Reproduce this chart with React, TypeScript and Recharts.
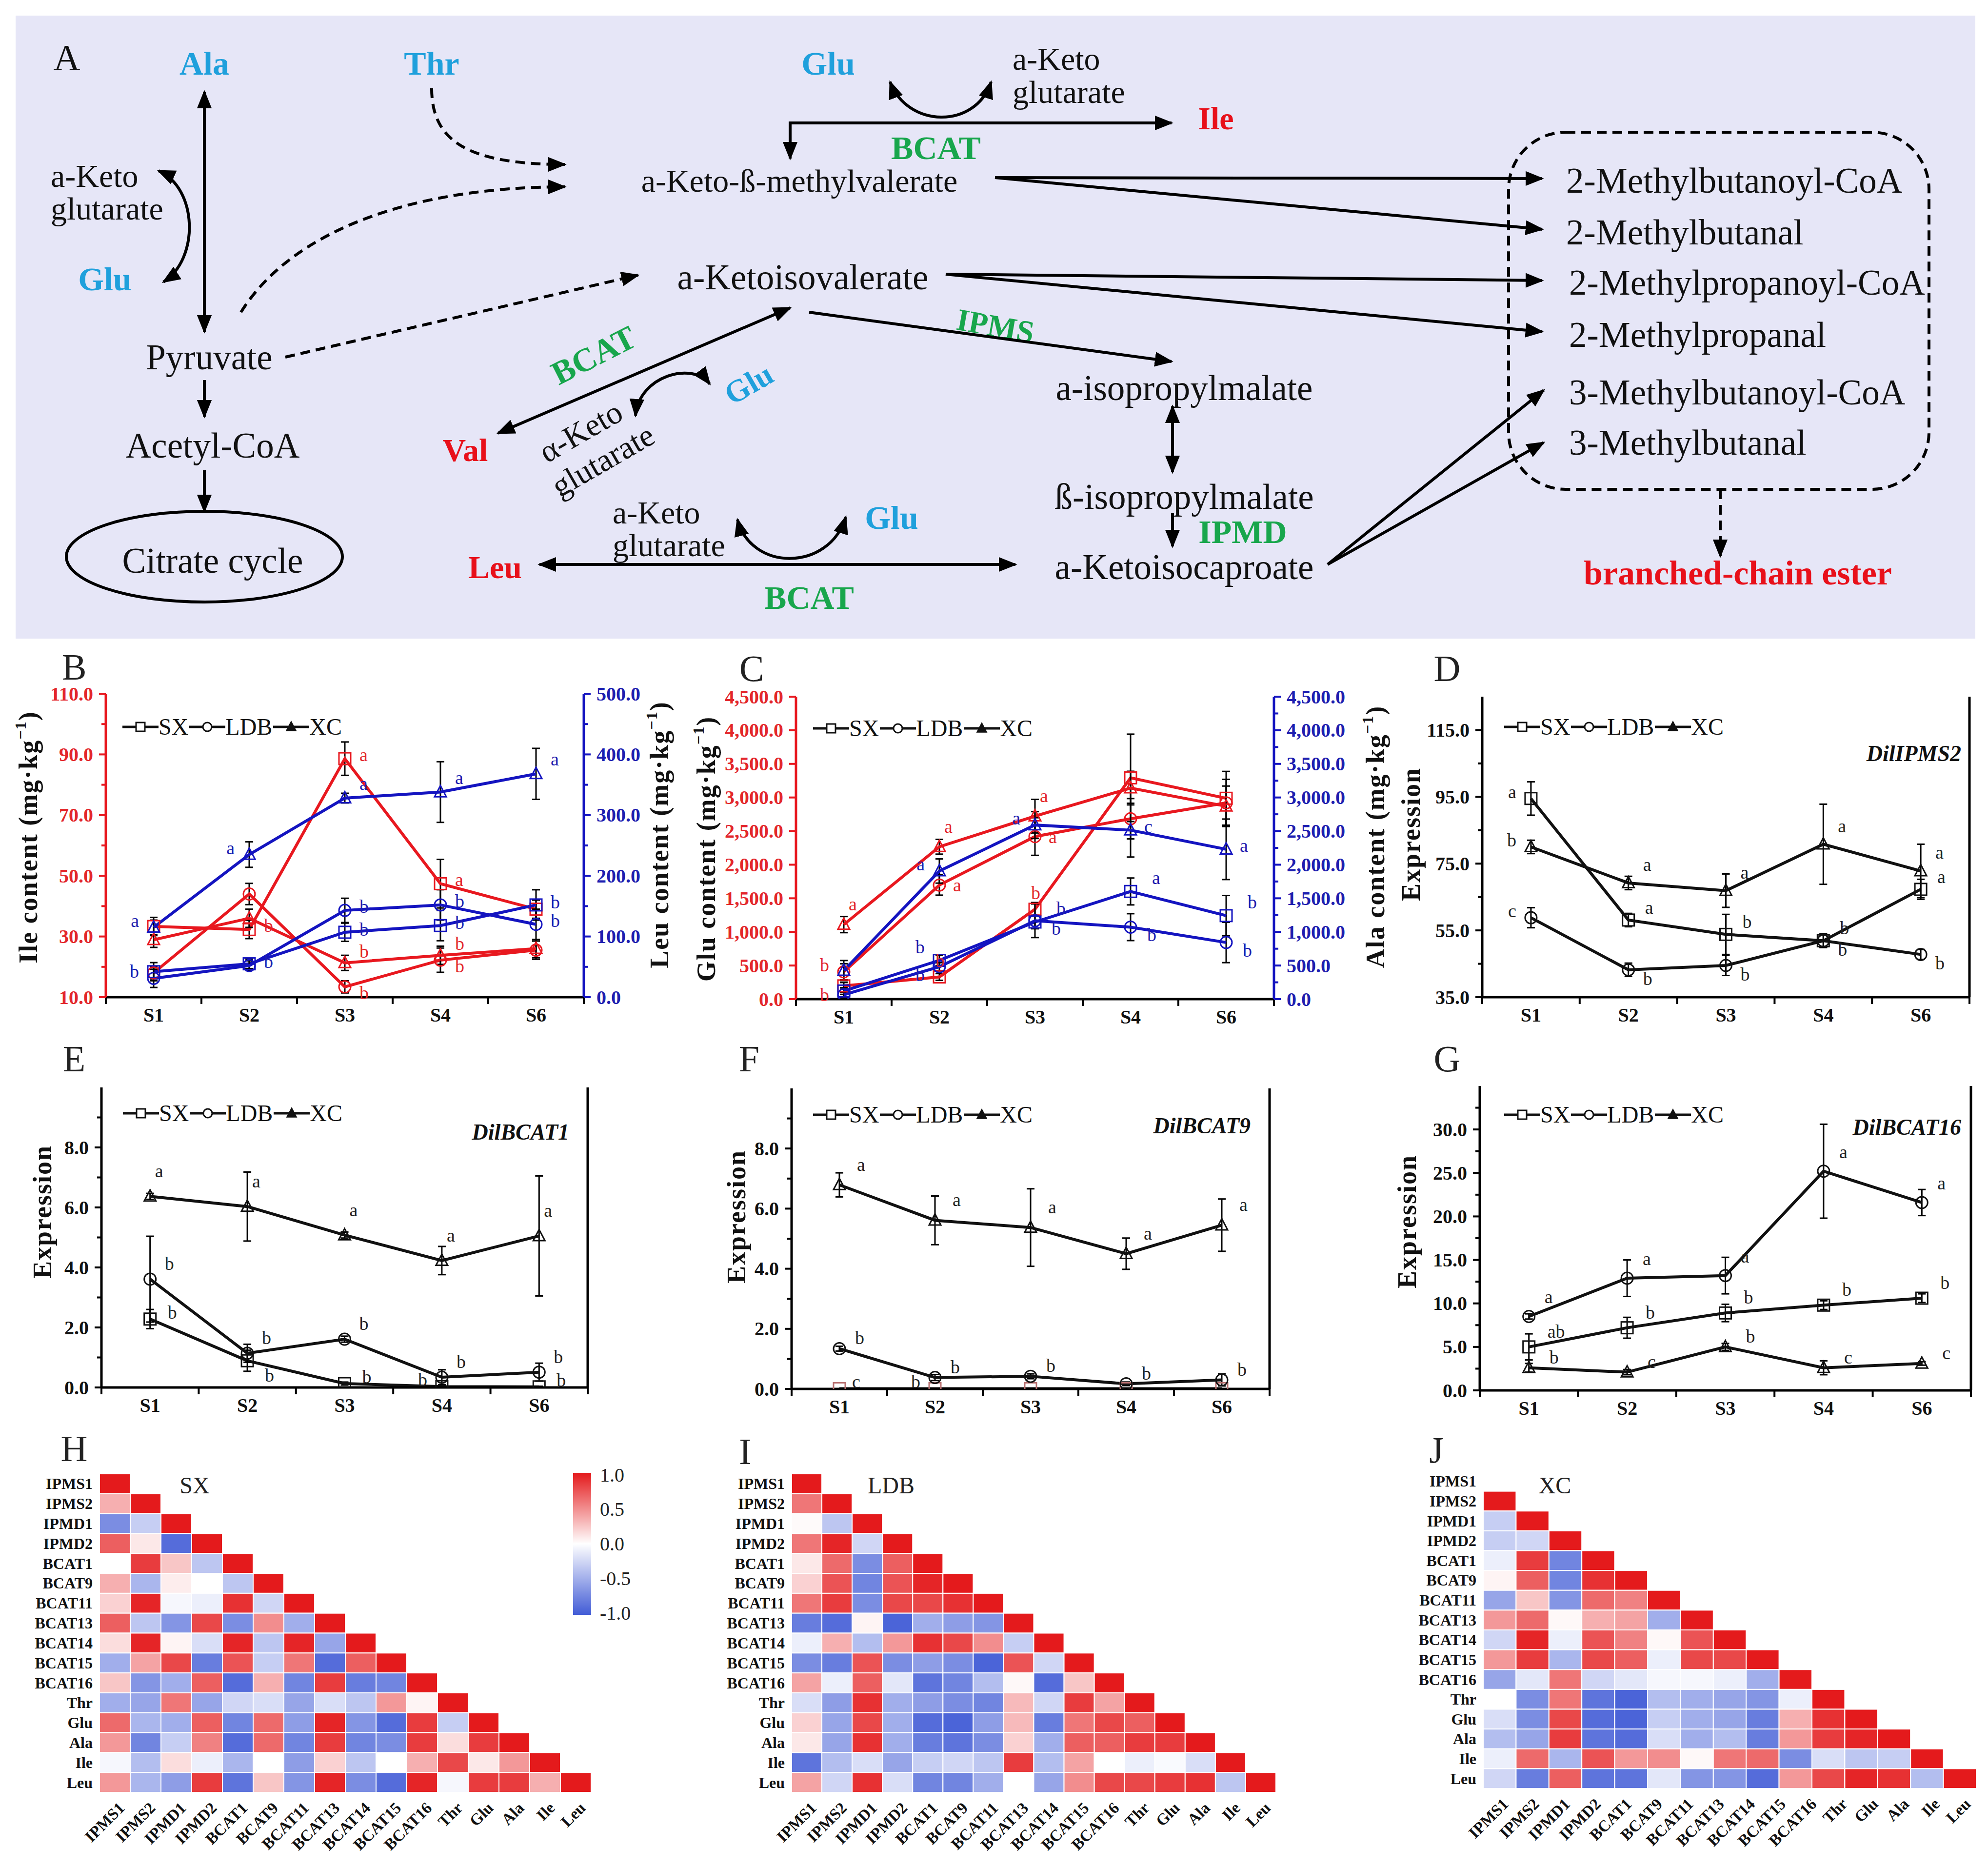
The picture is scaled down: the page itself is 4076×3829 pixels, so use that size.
import React from 'react';
import { LineChart, Line, XAxis, YAxis, ErrorBar, LabelList, ScatterChart, Scatter } from 'recharts';

const FONT = '"Liberation Serif", "Times New Roman", serif';
const RED = '#E8181F';
const BLUE = '#1414C0';
const BLK = '#111';

// ---------------- data ----------------
const stages = ['S1', 'S2', 'S3', 'S4', 'S6'];

// B: Ile (left) / Leu (right)
const ileSX = [33.3, 32.3, 88.6, 47.4, 39.0];
const ileSXErr = [3, 3, 5.5, 8, 3];
const ileSXLet = ['', 'b', 'a', 'a', ''];
const ileLDB = [18.0, 44.0, 13.4, 22.2, 25.5];
const ileLDBErr = [2, 3.5, 2, 4, 3];
const ileLDBLet = ['', '', 'b', 'b', ''];
const ileXC = [28.9, 36.0, 21.3, 23.8, 26.0];
const ileXCErr = [2.5, 3, 2.5, 3, 3];
const ileXCLet = ['', '', 'b', 'b', ''];
const leuSX = [42, 55, 107, 118, 152];
const leuSXErr = [15, 8, 15, 25, 25];
const leuSXLet = ['', '', 'b', 'b', 'b'];
const leuLDB = [31, 52, 143, 152, 120];
const leuLDBErr = [15, 8, 20, 25, 25];
const leuLDBLet = ['b', 'b', 'b', 'b', 'b'];
const leuXC = [115, 235, 328, 338, 368];
const leuXCErr = [12, 21, 8, 50, 42];
const leuXCLet = ['a', 'a', 'a', 'a', 'a'];
const ileTicks = [10, 30, 50, 70, 90, 110];
const ileMinor = [20, 40, 60, 80, 100];
const leuTicks = [0, 100, 200, 300, 400, 500];
const leuMinor = [50, 150, 250, 350, 450];

// C: Glu (left) / Ala (right)
const gluSX = [197, 330, 1337, 3292, 2988];
const gluSXErr = [50, 50, 100, 650, 400];
const gluSXLet = ['b', 'b', 'b', '', ''];
const gluLDB = [406, 1697, 2419, 2684, 2920];
const gluLDBErr = [120, 150, 280, 300, 350];
const gluLDBLet = ['b', 'a', 'a', '', ''];
const gluXC = [1109, 2267, 2722, 3140, 2870];
const gluXCErr = [120, 110, 250, 250, 300];
const gluXCLet = ['a', 'a', 'a', '', ''];
const alaSX = [121, 577, 1147, 1602, 1242];
const alaSXErr = [50, 80, 100, 200, 300];
const alaSXLet = ['', 'b', 'b', 'a', 'b'];
const alaLDB = [65, 482, 1166, 1071, 843];
const alaLDBErr = [40, 60, 250, 200, 300];
const alaLDBLet = ['', 'b', 'b', 'b', 'b'];
const alaXC = [425, 1906, 2590, 2514, 2229];
const alaXCErr = [150, 180, 200, 400, 450];
const alaXCLet = ['', 'a', 'a', 'c', 'a'];
const gluTicks = [0, 500, 1000, 1500, 2000, 2500, 3000, 3500, 4000, 4500];
const alaTicks = [0, 500, 1000, 1500, 2000, 2500, 3000, 3500, 4000, 4500];
const alaMinor = [250, 750, 1250, 1750, 2250, 2750, 3250, 3750, 4250];

// D: DilIPMS2
const ipmsSX = [94.5, 58.1, 53.8, 51.9, 67.3];
const ipmsSXErr = [5, 2, 6, 2, 3];
const ipmsSXLet = ['a', 'a', 'b', 'b', 'a'];
const ipmsLDB = [58.8, 43.2, 44.5, 51.9, 47.8];
const ipmsLDBErr = [3, 2, 3, 2, 1.5];
const ipmsLDBLet = ['c', 'b', 'b', 'b', 'b'];
const ipmsXC = [80.0, 69.2, 66.9, 80.8, 72.8];
const ipmsXCErr = [2, 2, 5, 12, 8];
const ipmsXCLet = ['b', 'a', 'a', 'a', 'a'];
const ipmsTicks = [35, 55, 75, 95, 115];
const ipmsMinor = [45, 65, 85, 105];

// E: DilBCAT1
const b1SX = [2.28, 0.89, 0.13, 0.03, 0.02];
const b1SXErr = [0.32, 0.35, 0.05, 0.02, 0.02];
const b1SXLet = ['b', 'b', 'b', 'b', 'b'];
const b1LDB = [3.61, 1.14, 1.61, 0.34, 0.51];
const b1LDBErr = [1.43, 0.3, 0.1, 0.25, 0.3];
const b1LDBLet = ['b', 'b', 'b', 'b', 'b'];
const b1XC = [6.37, 6.03, 5.08, 4.23, 5.05];
const b1XCErr = [0.1, 1.15, 0.1, 0.47, 2.0];
const b1XCLet = ['a', 'a', 'a', 'a', 'a'];

// F: DilBCAT9
const b9SX = [0.01, 0.01, 0.01, 0.01, 0.01];
const b9SXErr = [0, 0, 0, 0, 0];
const b9SXLet = ['c', 'b', '', '', ''];
const b9LDB = [1.34, 0.38, 0.42, 0.17, 0.3];
const b9LDBErr = [0.08, 0.1, 0.08, 0.06, 0.2];
const b9LDBLet = ['b', 'b', 'b', 'b', 'b'];
const b9XC = [6.79, 5.61, 5.37, 4.5, 5.45];
const b9XCErr = [0.4, 0.81, 1.29, 0.52, 0.87];
const b9XCLet = ['a', 'a', 'a', 'a', 'a'];
const bcatTicks = [0, 2, 4, 6, 8];
const bcatMinor = [1, 3, 5, 7, 9];

// G: DilBCAT16
const b16SX = [5.0, 7.2, 8.9, 9.8, 10.6];
const b16SXErr = [1.5, 1.2, 1.0, 0.5, 0.5];
const b16SXLet = ['ab', 'b', 'b', 'b', 'b'];
const b16LDB = [8.5, 12.9, 13.2, 25.2, 21.6];
const b16LDBErr = [0.3, 2.1, 2.1, 5.4, 1.5];
const b16LDBLet = ['a', 'a', 'a', 'a', 'a'];
const b16XC = [2.6, 2.1, 5.0, 2.6, 3.1];
const b16XCErr = [0.5, 0.3, 0.4, 0.8, 0.2];
const b16XCLet = ['b', 'c', 'b', 'c', 'c'];
const b16Ticks = [0, 5, 10, 15, 20, 25, 30];
const b16Minor = [2.5, 7.5, 12.5, 17.5, 22.5, 27.5, 32.5];

// Heatmaps
const varNames = ['IPMS1', 'IPMS2', 'IPMD1', 'IPMD2', 'BCAT1', 'BCAT9', 'BCAT11', 'BCAT13', 'BCAT14', 'BCAT15', 'BCAT16', 'Thr', 'Glu', 'Ala', 'Ile', 'Leu'];
const corrSX = [
  [1],
  [0.35, 1],
  [-0.7, -0.3, 1],
  [0.7, 0.1, -0.9, 1],
  [0.0, 0.85, 0.25, -0.35, 1],
  [0.35, -0.45, 0.08, 0.0, -0.35, 1],
  [0.2, 0.95, -0.05, -0.1, 0.9, -0.25, 1],
  [0.7, -0.35, -0.65, 0.8, -0.7, 0.5, -0.5, 1],
  [0.15, 0.95, 0.05, -0.2, 0.95, -0.35, 0.95, -0.55, 1],
  [-0.5, 0.4, 0.8, -0.8, 0.75, -0.3, 0.6, -0.9, 0.7, 1],
  [0.25, -0.65, -0.5, 0.7, -0.9, 0.35, -0.75, 0.85, -0.8, -0.75, 1],
  [-0.5, -0.55, 0.6, -0.55, -0.25, -0.2, -0.55, -0.2, -0.35, 0.45, 0.05, 1],
  [0.65, -0.45, -0.5, 0.7, -0.75, 0.65, -0.6, 0.95, -0.65, -0.9, 0.85, -0.3, 1],
  [0.45, -0.75, -0.3, 0.55, -0.9, 0.65, -0.75, 0.85, -0.75, -0.7, 0.85, 0.15, 0.85, 1],
  [-0.05, -0.4, 0.15, -0.1, -0.45, 0.0, -0.6, 0.2, -0.35, 0.0, 0.35, 0.8, 0.1, 0.45, 1],
  [0.45, -0.45, -0.6, 0.85, -0.85, 0.25, -0.65, 0.95, -0.7, -0.9, 0.95, -0.05, 0.85, 0.85, 0.35, 1],
];
const corrLDB = [
  [1],
  [0.6, 1],
  [0.02, -0.35, 1],
  [0.6, 0.95, -0.25, 1],
  [0.1, 0.65, -0.7, 0.7, 1],
  [0.2, 0.75, -0.75, 0.75, 0.95, 1],
  [0.6, 0.85, -0.7, 0.8, 0.8, 0.9, 1],
  [-0.8, -0.9, 0.05, -0.95, -0.5, -0.6, -0.65, 1],
  [-0.1, 0.35, -0.4, 0.45, 0.9, 0.8, 0.5, -0.3, 1],
  [-0.7, -0.8, 0.75, -0.7, -0.6, -0.7, -0.95, 0.75, -0.25, 1],
  [0.4, -0.1, 0.7, -0.15, -0.85, -0.75, -0.4, 0.03, -0.9, 0.25, 1],
  [-0.2, -0.6, 0.9, -0.5, -0.6, -0.7, -0.75, 0.3, -0.25, 0.85, 0.4, 1],
  [0.2, -0.55, 0.8, -0.5, -0.9, -0.95, -0.6, 0.3, -0.8, 0.6, 0.8, 0.7, 1],
  [0.1, -0.55, 0.9, -0.5, -0.8, -0.85, -0.7, 0.2, -0.5, 0.7, 0.7, 0.85, 0.85, 1],
  [-0.85, -0.4, -0.2, -0.55, -0.3, -0.25, -0.35, 0.85, -0.4, 0.4, 0.0, -0.1, -0.03, -0.2, 1],
  [0.4, -0.25, 0.9, -0.2, -0.75, -0.75, -0.5, 0.0, -0.55, 0.5, 0.8, 0.8, 0.85, 0.9, -0.35, 1],
];
const corrXC = [
  [1],
  [-0.3, 1],
  [-0.3, -0.25, 1],
  [-0.1, 0.85, -0.75, 1],
  [0.05, 0.7, -0.75, 0.9, 1],
  [-0.55, 0.25, -0.65, 0.65, 0.55, 1],
  [0.45, 0.65, 0.03, 0.35, 0.4, -0.5, 1],
  [-0.25, 0.95, -0.1, 0.75, 0.55, 0.03, 0.75, 1],
  [0.45, 0.85, -0.45, 0.8, 0.7, -0.1, 0.8, 0.8, 1],
  [-0.55, -0.15, 0.6, -0.25, -0.15, -0.05, -0.05, -0.1, -0.5, 1],
  [0.0, -0.7, 0.6, -0.85, -0.95, -0.4, -0.5, -0.55, -0.65, -0.1, 1],
  [-0.2, -0.7, 0.8, -0.9, -0.95, -0.3, -0.5, -0.55, -0.8, 0.35, 0.9, 1],
  [-0.4, -0.55, 0.85, -0.85, -0.9, -0.2, -0.5, -0.4, -0.8, 0.45, 0.85, 0.95, 1],
  [-0.1, 0.65, -0.45, 0.75, 0.45, 0.5, 0.03, 0.6, 0.65, -0.7, -0.2, -0.35, -0.3, 1],
  [-0.25, -0.8, 0.7, -0.85, -0.85, -0.15, -0.65, -0.65, -0.9, 0.45, 0.8, 0.95, 0.9, -0.4, 1],
];
const colorbarTicks = [1.0, 0.5, 0.0, -0.5, -1.0];

// ---------------- helpers ----------------
const f1 = (v: number) => v.toFixed(1);
const fc = (v: number) => v.toLocaleString('en-US', { minimumFractionDigits: 1, maximumFractionDigits: 1 });

const HRED = [228, 26, 28];
const HBLUE = [66, 92, 214];
function corrColor(v: number) {
  const c = v >= 0 ? HRED : HBLUE;
  const t = Math.min(1, Math.abs(v));
  const m = (a: number) => Math.round(255 + (a - 255) * t);
  return `rgb(${m(c[0])},${m(c[1])},${m(c[2])})`;
}

function MarkerShape({ shape, cx, cy, color, fill, s = 12, sw = 3 }: any) {
  if (shape === 'square') return <rect x={cx - s} y={cy - s} width={2 * s} height={2 * s} fill={fill} stroke={color} strokeWidth={sw} />;
  if (shape === 'circle') return <circle cx={cx} cy={cy} r={s} fill={fill} stroke={color} strokeWidth={sw} />;
  return <polygon points={`${cx},${cy - s * 1.1} ${cx - s},${cy + s * 0.8} ${cx + s},${cy + s * 0.8}`} fill={fill} stroke={color} strokeWidth={sw} />;
}

const makeDot = (se: any) => (p: any) => {
  const { cx, cy, index } = p;
  if (cx == null || cy == null) return <g key={`d${index}`} />;
  return (
    <g key={`d${index}`}>
      <MarkerShape shape={se.shape} cx={cx} cy={cy} color={se.markerColor || se.color} fill="none" />
    </g>
  );
};

// significance letters: placed right of the point by default, left / below for listed indices
const makeLetter = (se: any) => (p: any) => {
  const vb = p.viewBox || {};
  const x = p.x != null ? p.x : vb.x;
  const y = p.y != null ? p.y : vb.y;
  if (!p.value || x == null || y == null) return null;
  const left = (se.leftAt || []).includes(p.index);
  const below = (se.belowAt || []).includes(p.index);
  const dx = left ? -30 : se.ldx;
  const dy = left ? (se.ldyL != null ? se.ldyL : -14) : below ? 30 : se.ldy;
  return (
    <text x={x + dx} y={y + dy} fill={se.letterColor} fontFamily={FONT} fontSize={38} textAnchor={left ? 'end' : 'start'} dominantBaseline="central">
      {p.value}
    </text>
  );
};

const makeYTick = (cfg: any, side: 'l' | 'r') => (p: any) => {
  const { x, y, payload } = p;
  const v = payload.value;
  const major = cfg.major.includes(v);
  const len = major ? 14 : 9;
  const dir = side === 'l' ? -1 : 1;
  return (
    <g>
      <line x1={x} x2={x + dir * len} y1={y} y2={y} stroke={cfg.color} strokeWidth={4} />
      {major && (
        <text x={x + dir * (len + 12)} y={y} textAnchor={side === 'l' ? 'end' : 'start'} dominantBaseline="central"
          fill={cfg.textColor || cfg.color} fontFamily={FONT} fontWeight="bold" fontSize={40}>
          {cfg.fmt(v)}
        </text>
      )}
    </g>
  );
};

const XTick = (p: any) => {
  const { x, y, payload } = p;
  const v = payload.value;
  if (Number.isInteger(v)) return <line x1={x} x2={x} y1={y} y2={y + 14} stroke="#000" strokeWidth={4} />;
  return (
    <text x={x} y={y + 36} textAnchor="middle" dominantBaseline="central" fontFamily={FONT} fontWeight="bold" fontSize={40} fill="#111">
      {stages[Math.floor(v)]}
    </text>
  );
};

function LinePanel({ box, leftAxis, rightAxis, series }: any) {
  const { cl, ct, cw, ch, pl, pr, pt, pb } = box;
  const data = stages.map((s, i) => {
    const row: any = { x: i + 0.5, stage: s };
    series.forEach((se: any, k: number) => {
      row['v' + k] = se.values[i];
      row['e' + k] = se.errors[i];
      row['t' + k] = se.letters[i];
    });
    return row;
  });
  const xTicks = [...stages.flatMap((_, i) => [i, i + 0.5]), stages.length];
  const lTicks = [...leftAxis.major, ...leftAxis.minor].sort((a, b) => a - b);
  const rTicks = rightAxis ? [...rightAxis.major, ...rightAxis.minor].sort((a, b) => a - b) : [];
  return (
    <div style={{ position: 'absolute', left: cl, top: ct, width: cw, height: ch }}>
      <LineChart width={cw} height={ch} data={data} margin={{ top: pt - ct, right: 0, bottom: 0, left: 0 }}>
        <XAxis xAxisId="b" dataKey="x" type="number" domain={[0, stages.length]} ticks={xTicks} interval={0}
          tick={XTick} tickLine={false} tickSize={0} tickMargin={0} height={ct + ch - pb}
          axisLine={{ stroke: '#000', strokeWidth: 5 }} allowDataOverflow />
        <XAxis xAxisId="t" orientation="top" dataKey="x" type="number" domain={[0, stages.length]} tick={false}
          tickLine={false} height={0} axisLine={{ stroke: '#000', strokeWidth: 5 }} allowDataOverflow />
        <YAxis yAxisId="l" type="number" width={pl - cl} domain={leftAxis.domain} ticks={lTicks} interval={0}
          tick={makeYTick(leftAxis, 'l')} tickLine={false} tickSize={0} tickMargin={0}
          axisLine={{ stroke: leftAxis.color, strokeWidth: 5 }} allowDataOverflow />
        <YAxis yAxisId="r" type="number" orientation="right" width={cl + cw - pr}
          domain={rightAxis ? rightAxis.domain : [0, 1]} ticks={rTicks} interval={0}
          tick={rightAxis ? makeYTick(rightAxis, 'r') : false} tickLine={false} tickSize={0} tickMargin={0}
          axisLine={{ stroke: rightAxis ? rightAxis.color : '#000', strokeWidth: 5 }} allowDataOverflow />
        {series.map((se: any, k: number) => (
          <Line key={k} xAxisId="b" yAxisId={se.axis} dataKey={'v' + k} stroke={se.color} strokeWidth={6}
            dot={makeDot(se)} activeDot={false} isAnimationActive={false} type="linear">
            <ErrorBar dataKey={'e' + k} width={8} stroke="#000" strokeWidth={3} direction="y" isAnimationActive={false} />
            <LabelList dataKey={'t' + k} content={makeLetter(se)} />
          </Line>
        ))}
      </LineChart>
    </div>
  );
}

const legendItems = [
  { name: 'SX', shape: 'square' },
  { name: 'LDB', shape: 'circle' },
  { name: 'XC', shape: 'triangle' },
];

function LegendOverlay({ left, cy }: any) {
  return (
    <div style={{ position: 'absolute', left, top: cy, transform: 'translateY(-50%)', display: 'flex', alignItems: 'center',
      fontFamily: FONT, fontSize: 48, lineHeight: 1, color: '#111' }}>
      {legendItems.map((it) => (
        <div key={it.name} style={{ display: 'flex', alignItems: 'center' }}>
          <svg width={74} height={30} style={{ display: 'block' }}>
            <line x1={0} x2={74} y1={15} y2={15} stroke="#111" strokeWidth={5} />
            <MarkerShape shape={it.shape} cx={37} cy={15} color="#111" fill={it.shape === 'triangle' ? '#111' : '#fff'} s={9} sw={3} />
          </svg>
          <span style={{ marginRight: 2 }}>{it.name}</span>
        </div>
      ))}
    </div>
  );
}

function RotTitle({ cx, cy, children }: any) {
  return (
    <div style={{ position: 'absolute', left: cx, top: cy, transform: 'translate(-50%,-50%) rotate(-90deg)', whiteSpace: 'nowrap',
      fontFamily: FONT, fontWeight: 'bold', fontSize: 54, letterSpacing: 2, color: '#111', lineHeight: 1 }}>
      {children}
    </div>
  );
}

const unit = (
  <>
    (mg·kg<sup style={{ fontSize: '0.6em', verticalAlign: '0.7em', lineHeight: 0 }}>−1</sup>)
  </>
);

function PanelLetter({ cx, cy, children }: any) {
  return (
    <div style={{ position: 'absolute', left: cx, top: cy, transform: 'translate(-50%,-50%)', fontFamily: FONT, fontSize: 76, color: '#222', lineHeight: 1 }}>
      {children}
    </div>
  );
}

function GeneLabel({ right, cy, children }: any) {
  return (
    <div style={{ position: 'absolute', left: right, top: cy, transform: 'translate(-100%,-50%)', fontFamily: FONT, fontSize: 46,
      fontWeight: 'bold', fontStyle: 'italic', color: '#111', whiteSpace: 'nowrap', lineHeight: 1 }}>
      {children}
    </div>
  );
}

function Heatmap({ cl, ct, cw, ch, gl, gt, gr, gb, rows, rowOffset, nCols }: any) {
  const nRows = varNames.length;
  const cells = rows.flatMap((vals: number[], i: number) => vals.map((v, j) => ({ c: j + 0.5, r: i + rowOffset + 0.5, v })));
  const cellW = (gr - gl) / nCols;
  const cellH = (gb - gt) / nRows;
  const xTicks = varNames.map((_, i) => ((i + 0.5) * nCols) / varNames.length);
  const yTicks = varNames.map((_, i) => i + 0.5);
  const XLab = (p: any) => {
    const ax = p.x + 22;
    const ay = p.y + 34;
    return (
      <text x={ax} y={ay} transform={`rotate(-45 ${ax} ${ay})`} textAnchor="end" fontFamily={FONT} fontWeight="bold" fontSize={33} fill="#111">
        {varNames[p.index]}
      </text>
    );
  };
  const YLab = (p: any) => (
    <text x={p.x - 14} y={p.y} textAnchor="end" dominantBaseline="central" fontFamily={FONT} fontWeight="bold" fontSize={32} fill="#111">
      {varNames[p.index]}
    </text>
  );
  return (
    <div style={{ position: 'absolute', left: cl, top: ct, width: cw, height: ch }}>
      <ScatterChart width={cw} height={ch} margin={{ top: gt - ct, right: cl + cw - gr, bottom: 0, left: 0 }}>
        <XAxis dataKey="c" type="number" domain={[0, nCols]} ticks={xTicks} interval={0} tick={XLab} axisLine={false}
          tickLine={false} tickSize={0} tickMargin={0} height={ct + ch - gb} allowDataOverflow />
        <YAxis dataKey="r" type="number" domain={[0, nRows]} reversed ticks={yTicks} interval={0} tick={YLab} axisLine={false}
          tickLine={false} tickSize={0} tickMargin={0} width={gl - cl} allowDataOverflow />
        <Scatter data={cells} isAnimationActive={false}
          shape={(p: any) => (
            <rect x={p.cx - cellW / 2} y={p.cy - cellH / 2} width={cellW} height={cellH} fill={corrColor(p.payload.v)} stroke="#fff" strokeWidth={2} />
          )} />
      </ScatterChart>
    </div>
  );
}

function ColorBar() {
  const x = 1175, y0 = 3019, w = 37, h = 291;
  return (
    <svg width={4076} height={3829} style={{ position: 'absolute', left: 0, top: 0, pointerEvents: 'none' }}>
      <defs>
        <linearGradient id="cbar" x1="0" y1="0" x2="0" y2="1">
          <stop offset="0" stopColor={corrColor(1)} />
          <stop offset="0.5" stopColor="#fff" />
          <stop offset="1" stopColor={corrColor(-1)} />
        </linearGradient>
      </defs>
      <rect x={x} y={y0} width={w} height={h} fill="url(#cbar)" />
      {colorbarTicks.map((v) => (
        <text key={v} x={x + w + 18} y={y0 + ((1 - v) / 2) * (h - 8) + 4} dominantBaseline="central" fontFamily={FONT} fontSize={40} fill="#222">
          {v.toFixed(1)}
        </text>
      ))}
    </svg>
  );
}

// ---------------- pathway panel ----------------
const CBLUE = '#1FA0DC';
const CRED = '#E8101A';
const CGREEN = '#18A64C';

function PathwayPanel() {
  const T = (x: number, y: number, s: string, o: any = {}) => (
    <text x={x} y={y} fontFamily={FONT} fontSize={o.size || 73} fontWeight={o.bold ? 'bold' : 'normal'} fill={o.color || '#111'}
      textAnchor={o.anchor || 'middle'} dominantBaseline="central" transform={o.rot ? `rotate(${o.rot} ${x} ${y})` : undefined}>
      {s}
    </text>
  );
  // two-line label as a single text element
  const T2 = (x: number, y: number, a: string, b: string, o: any = {}) => (
    <text x={x} y={y} fontFamily={FONT} fontSize={o.size || 66} fill="#111" textAnchor={o.anchor || 'start'} dominantBaseline="central"
      transform={o.rot ? `rotate(${o.rot} ${x} ${y})` : undefined}>
      <tspan x={x}>{a}</tspan>
      <tspan x={x + (o.dx2 || 0)} dy={o.gap || 66}>{b}</tspan>
    </text>
  );
  const L = { stroke: '#000', strokeWidth: 6, fill: 'none' } as any;
  const D = { ...L, strokeDasharray: '20 12' };
  return (
    <svg width={4076} height={1320} style={{ position: 'absolute', left: 0, top: 0 }}>
      <defs>
        <marker id="ah" viewBox="0 0 10 10" refX="9" refY="5" markerWidth="38" markerHeight="38" markerUnits="userSpaceOnUse" orient="auto-start-reverse">
          <path d="M0,1 L10,5 L0,9 z" fill="#000" />
        </marker>
      </defs>
      <rect x={32} y={32} width={4018} height={1277} fill="#E6E6F7" />
      {T(137, 118, 'A', { size: 76 })}
      {T(419, 130, 'Ala', { bold: true, color: CBLUE, size: 68 })}
      {T(885, 130, 'Thr', { bold: true, color: CBLUE, size: 68 })}
      {T(1698, 130, 'Glu', { bold: true, color: CBLUE, size: 68 })}
      {T2(2076, 120, 'a-Keto', 'glutarate', { gap: 68 })}
      {T(2493, 242, 'Ile', { bold: true, color: CRED, size: 66 })}
      {T(1919, 303, 'BCAT', { bold: true, color: CGREEN, size: 68 })}
      {T(1639, 370, 'a-Keto-ß-methylvalerate', { size: 66 })}
      {T2(104, 360, 'a-Keto', 'glutarate', { gap: 67 })}
      {T(215, 572, 'Glu', { bold: true, color: CBLUE, size: 68 })}
      {T(1646, 568, 'a-Ketoisovalerate')}
      {T(429, 732, 'Pyruvate')}
      {T(436, 913, 'Acetyl-CoA')}
      {T(436, 1149, 'Citrate cycle')}
      {T(1217, 728, 'BCAT', { bold: true, color: CGREEN, size: 68, rot: -27 })}
      {T(954, 922, 'Val', { bold: true, color: CRED, size: 66 })}
      {T2(1190, 884, 'α-Keto', 'glutarate', { anchor: 'middle', rot: -30, size: 66, gap: 74, dx2: 10 })}
      {T(1535, 787, 'Glu', { bold: true, color: CBLUE, size: 64, rot: -30 })}
      {T(2041, 668, 'IPMS', { bold: true, color: CGREEN, size: 64, rot: 10 })}
      {T(2428, 795, 'a-isopropylmalate')}
      {T(2428, 1018, 'ß-isopropylmalate')}
      {T(2548, 1090, 'IPMD', { bold: true, color: CGREEN, size: 68 })}
      {T(2428, 1162, 'a-Ketoisocaproate')}
      {T(1015, 1162, 'Leu', { bold: true, color: CRED, size: 66 })}
      {T2(1256, 1050, 'a-Keto', 'glutarate', { gap: 67 })}
      {T(1828, 1061, 'Glu', { bold: true, color: CBLUE, size: 68 })}
      {T(1659, 1225, 'BCAT', { bold: true, color: CGREEN, size: 68 })}
      {T(3211, 370, '2-Methylbutanoyl-CoA', { anchor: 'start' })}
      {T(3211, 476, '2-Methylbutanal', { anchor: 'start' })}
      {T(3217, 579, '2-Methylpropanoyl-CoA', { anchor: 'start' })}
      {T(3217, 686, '2-Methylpropanal', { anchor: 'start' })}
      {T(3217, 804, '3-Methylbutanoyl-CoA', { anchor: 'start' })}
      {T(3217, 907, '3-Methylbutanal', { anchor: 'start' })}
      {T(3563, 1174, 'branched-chain ester', { bold: true, color: CRED, size: 70 })}

      {/* arrows */}
      <line x1={419} y1={188} x2={419} y2={680} {...L} markerStart="url(#ah)" markerEnd="url(#ah)" />
      <path d="M 325,350 C 405,385 410,530 335,578" {...L} markerStart="url(#ah)" markerEnd="url(#ah)" />
      <line x1={419} y1={779} x2={419} y2={854} {...L} markerEnd="url(#ah)" />
      <line x1={419} y1={964} x2={419} y2={1048} {...L} markerEnd="url(#ah)" />
      <ellipse cx={419} cy={1141} rx={283} ry={93} {...L} />
      <path d="M 885,181 C 885,290 960,337 1158,337" {...D} markerEnd="url(#ah)" />
      <path d="M 494,640 C 600,470 850,383 1158,383" {...D} markerEnd="url(#ah)" />
      <line x1={585} y1={732} x2={1308} y2={564} {...D} markerEnd="url(#ah)" />
      <path d="M 1825,168 C 1860,262 2000,266 2032,168" {...L} markerStart="url(#ah)" markerEnd="url(#ah)" />
      <path d="M 1620,325 L 1620,252 L 2402,252" {...L} markerStart="url(#ah)" markerEnd="url(#ah)" />
      <line x1={2040} y1={364} x2={3162} y2={366} {...L} markerEnd="url(#ah)" />
      <line x1={2040} y1={364} x2={3162} y2={470} {...L} markerEnd="url(#ah)" />
      <line x1={1939} y1={562} x2={3162} y2={575} {...L} markerEnd="url(#ah)" />
      <line x1={1939} y1={562} x2={3162} y2={680} {...L} markerEnd="url(#ah)" />
      <line x1={1021} y1={888} x2={1620} y2={631} {...L} markerStart="url(#ah)" markerEnd="url(#ah)" />
      <path d="M 1303,852 C 1310,770 1420,740 1455,787" {...L} markerStart="url(#ah)" markerEnd="url(#ah)" />
      <line x1={1659} y1={640} x2={2402} y2={741} {...L} markerEnd="url(#ah)" />
      <line x1={2404} y1={833} x2={2404} y2={968} {...L} markerStart="url(#ah)" markerEnd="url(#ah)" />
      <line x1={2404} y1={1052} x2={2404} y2={1120} {...L} markerEnd="url(#ah)" />
      <line x1={1106} y1={1157} x2={2082} y2={1157} {...L} markerStart="url(#ah)" markerEnd="url(#ah)" />
      <path d="M 1512,1065 C 1540,1172 1700,1172 1734,1060" {...L} markerStart="url(#ah)" markerEnd="url(#ah)" />
      <line x1={2722} y1={1157} x2={3165} y2={800} {...L} markerEnd="url(#ah)" />
      <line x1={2722} y1={1157} x2={3165} y2={907} {...L} markerEnd="url(#ah)" />
      <rect x={3093} y={271} width={862} height={732} rx={117} ry={117} {...D} />
      <line x1={3527} y1={1003} x2={3527} y2={1140} {...D} markerEnd="url(#ah)" />
    </svg>
  );
}

// ---------------- panels config ----------------
const RTXT = '#E3262B';
const BTXT = '#1E1EB0';

const axB_L = { domain: [10, 110], major: ileTicks, minor: ileMinor, color: RED, textColor: RTXT, fmt: f1 };
const axB_R = { domain: [0, 500], major: leuTicks, minor: leuMinor, color: BLUE, textColor: BTXT, fmt: f1 };
const axC_L = { domain: [0, 4500], major: gluTicks, minor: [], color: RED, textColor: RTXT, fmt: fc };
const axC_R = { domain: [0, 4500], major: alaTicks, minor: alaMinor, color: BLUE, textColor: BTXT, fmt: fc };
const axD = { domain: [35, 125], major: ipmsTicks, minor: ipmsMinor, color: '#000', textColor: '#111', fmt: f1 };
const axEF = { domain: [0, 10], major: bcatTicks, minor: bcatMinor, color: '#000', textColor: '#111', fmt: f1 };
const axG = { domain: [0, 35], major: b16Ticks, minor: b16Minor, color: '#000', textColor: '#111', fmt: f1 };

const ser = (values: number[], errors: number[], letters: string[], shape: string, color: string, letterColor: string,
  axis: string, ldx: number, ldy: number, opts: any = {}) =>
  ({ values, errors, letters, shape, color, letterColor, axis, ldx, ldy, ...opts });

const sB = [
  ser(ileSX, ileSXErr, ileSXLet, 'square', RED, RTXT, 'l', 30, -8),
  ser(ileLDB, ileLDBErr, ileLDBLet, 'circle', RED, RTXT, 'l', 30, 12),
  ser(ileXC, ileXCErr, ileXCLet, 'triangle', RED, RTXT, 'l', 30, -24),
  ser(leuSX, leuSXErr, leuSXLet, 'square', BLUE, BTXT, 'r', 30, -6),
  ser(leuLDB, leuLDBErr, leuLDBLet, 'circle', BLUE, BTXT, 'r', 30, -8, { leftAt: [0] }),
  ser(leuXC, leuXCErr, leuXCLet, 'triangle', BLUE, BTXT, 'r', 30, -30, { leftAt: [0, 1] }),
];
const sC = [
  ser(gluSX, gluSXErr, gluSXLet, 'square', RED, RTXT, 'l', -8, -34, { leftAt: [0], ldyL: 18 }),
  ser(gluLDB, gluLDBErr, gluLDBLet, 'circle', RED, RTXT, 'l', 28, 0, { leftAt: [0] }),
  ser(gluXC, gluXCErr, gluXCLet, 'triangle', RED, RTXT, 'l', 10, -42),
  ser(alaSX, alaSXErr, alaSXLet, 'square', BLUE, BTXT, 'r', 44, -28, { leftAt: [1], ldyL: -28 }),
  ser(alaLDB, alaLDBErr, alaLDBLet, 'circle', BLUE, BTXT, 'r', 34, 16, { leftAt: [1], ldyL: 16 }),
  ser(alaXC, alaXCErr, alaXCLet, 'triangle', BLUE, BTXT, 'r', 28, -8, { leftAt: [1, 2] }),
];
const sD = [
  ser(ipmsSX, ipmsSXErr, ipmsSXLet, 'square', BLK, '#222', 'l', 34, -26, { leftAt: [0] }),
  ser(ipmsLDB, ipmsLDBErr, ipmsLDBLet, 'circle', BLK, '#222', 'l', 30, 18, { leftAt: [0] }),
  ser(ipmsXC, ipmsXCErr, ipmsXCLet, 'triangle', BLK, '#222', 'l', 30, -38, { leftAt: [0] }),
];
const sE = [
  ser(b1SX, b1SXErr, b1SXLet, 'square', BLK, '#222', 'l', 36, -14, { leftAt: [3], belowAt: [1] }),
  ser(b1LDB, b1LDBErr, b1LDBLet, 'circle', BLK, '#222', 'l', 30, -32),
  ser(b1XC, b1XCErr, b1XCLet, 'triangle', BLK, '#222', 'l', 10, -52),
];
const sF = [
  ser(b9SX, b9SXErr, b9SXLet, 'square', BLK, '#222', 'l', 26, -14, { leftAt: [1], markerColor: '#B87070' }),
  ser(b9LDB, b9LDBErr, b9LDBLet, 'circle', BLK, '#222', 'l', 32, -22),
  ser(b9XC, b9XCErr, b9XCLet, 'triangle', BLK, '#222', 'l', 36, -42),
];
const sG = [
  ser(b16SX, b16SXErr, b16SXLet, 'square', BLK, '#222', 'l', 38, -32),
  ser(b16LDB, b16LDBErr, b16LDBLet, 'circle', BLK, '#222', 'l', 32, -40),
  ser(b16XC, b16XCErr, b16XCLet, 'triangle', BLK, '#222', 'l', 42, -22),
];

export default function App() {
  return (
    <div style={{ position: 'absolute', left: 0, top: 0, width: 4076, height: 3829, background: '#fff', overflow: 'hidden', fontFamily: FONT }}>
      <PathwayPanel />

      <LinePanel box={{ cl: 0, ct: 1330, cw: 1360, ch: 800, pl: 217, pr: 1197, pt: 1422, pb: 2044 }} leftAxis={axB_L} rightAxis={axB_R} series={sB} />
      <LinePanel box={{ cl: 1350, ct: 1330, cw: 1450, ch: 800, pl: 1632, pr: 2612, pt: 1428, pb: 2048 }} leftAxis={axC_L} rightAxis={axC_R} series={sC} />
      <LinePanel box={{ cl: 2720, ct: 1330, cw: 1356, ch: 800, pl: 3039, pr: 4038, pt: 1428, pb: 2044 }} leftAxis={axD} series={sD} />
      <LinePanel box={{ cl: 0, ct: 2130, cw: 1360, ch: 800, pl: 208, pr: 1205, pt: 2229, pb: 2844 }} leftAxis={axEF} series={sE} />
      <LinePanel box={{ cl: 1350, ct: 2130, cw: 1380, ch: 800, pl: 1623, pr: 2603, pt: 2231, pb: 2847 }} leftAxis={axEF} series={sF} />
      <LinePanel box={{ cl: 2720, ct: 2130, cw: 1356, ch: 800, pl: 3034, pr: 4041, pt: 2226, pb: 2850 }} leftAxis={axG} series={sG} />

      <LegendOverlay left={251} cy={1490} />
      <LegendOverlay left={1667} cy={1493} />
      <LegendOverlay left={3084} cy={1490} />
      <LegendOverlay left={252} cy={2282} />
      <LegendOverlay left={1667} cy={2285} />
      <LegendOverlay left={3084} cy={2285} />

      <RotTitle cx={58} cy={1716}>Ile content {unit}</RotTitle>
      <RotTitle cx={1352} cy={1711}>Leu content {unit}</RotTitle>
      <RotTitle cx={1448} cy={1740}>Glu content {unit}</RotTitle>
      <RotTitle cx={2820} cy={1715}>Ala content {unit}</RotTitle>
      <RotTitle cx={2893} cy={1710}>Expression</RotTitle>
      <RotTitle cx={87} cy={2484}>Expression</RotTitle>
      <RotTitle cx={1510} cy={2494}>Expression</RotTitle>
      <RotTitle cx={2885} cy={2504}>Expression</RotTitle>

      <GeneLabel right={4021} cy={1545}>DilIPMS2</GeneLabel>
      <GeneLabel right={1167} cy={2321}>DilBCAT1</GeneLabel>
      <GeneLabel right={2564} cy={2308}>DilBCAT9</GeneLabel>
      <GeneLabel right={4021} cy={2311}>DilBCAT16</GeneLabel>

      <PanelLetter cx={152} cy={1367}>B</PanelLetter>
      <PanelLetter cx={1541} cy={1370}>C</PanelLetter>
      <PanelLetter cx={2967} cy={1370}>D</PanelLetter>
      <PanelLetter cx={152} cy={2170}>E</PanelLetter>
      <PanelLetter cx={1536} cy={2170}>F</PanelLetter>
      <PanelLetter cx={2967} cy={2170}>G</PanelLetter>
      <PanelLetter cx={152} cy={2969}>H</PanelLetter>
      <PanelLetter cx={1528} cy={2975}>I</PanelLetter>
      <PanelLetter cx={2945} cy={2972}>J</PanelLetter>

      <Heatmap cl={0} ct={2930} cw={1350} ch={899} gl={204} gt={3021} gr={1212} gb={3674} rows={corrSX} rowOffset={0} nCols={16} />
      <Heatmap cl={1350} ct={2930} cw={1380} ch={899} gl={1623} gt={3021} gr={2616} gb={3674} rows={corrLDB} rowOffset={0} nCols={16} />
      <Heatmap cl={2720} ct={2930} cw={1356} ch={899} gl={3041} gt={3016} gr={4052} gb={3666} rows={corrXC} rowOffset={1} nCols={15} />
      <ColorBar />

      <div style={{ position: 'absolute', left: 399, top: 3045, transform: 'translate(-50%,-50%)', fontSize: 48, lineHeight: 1, color: '#222' }}>SX</div>
      <div style={{ position: 'absolute', left: 1827, top: 3045, transform: 'translate(-50%,-50%)', fontSize: 48, lineHeight: 1, color: '#222' }}>LDB</div>
      <div style={{ position: 'absolute', left: 3188, top: 3045, transform: 'translate(-50%,-50%)', fontSize: 48, lineHeight: 1, color: '#222' }}>XC</div>
    </div>
  );
}
